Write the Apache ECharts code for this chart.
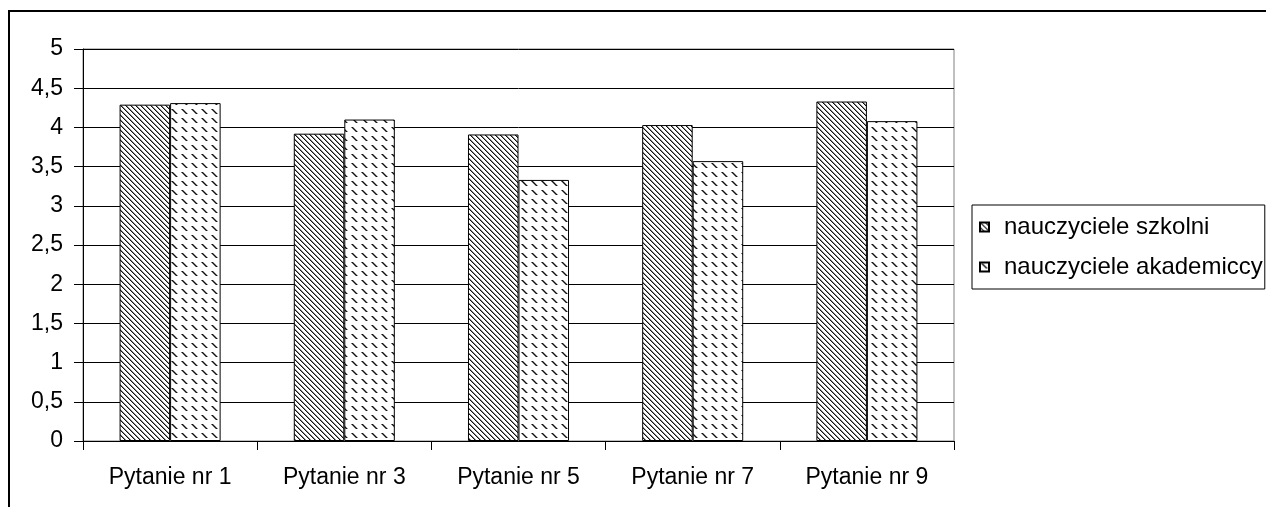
<!DOCTYPE html>
<html>
<head>
<meta charset="utf-8">
<title>Pytania</title>
<script src="https://cdn.jsdelivr.net/npm/echarts@6/dist/echarts.min.js"></script>
<style>
	html,body{margin:0;padding:0;background:#fff;}
	#wykres{width:1266px;height:507px;}
</style>
</head>
<body>
<div id="wykres"></div>
<script>
var pytania = ['Pytanie nr 1','Pytanie nr 3','Pytanie nr 5','Pytanie nr 7','Pytanie nr 9'];
var szkolni = [4.29, 3.92, 3.91, 4.03, 4.33];
var akademiccy = [4.31, 4.10, 3.33, 3.57, 4.08];
var nazwy = ['nauczyciele szkolni','nauczyciele akademiccy'];

var myChart;
var font = '"Liberation Sans", Arial, sans-serif';

//wzorek ukosne linie
function wzorSkosny(){
	var c = document.createElement('canvas');
	c.width = 5; c.height = 5;
	var ctx = c.getContext('2d');
	ctx.fillStyle = '#fff';
	ctx.fillRect(0,0,5,5);
	for(var i=0;i<5;i++){
		ctx.fillStyle = '#111';
		ctx.fillRect(i,i,1,1);
		ctx.fillStyle = '#8a8a8a';
		ctx.fillRect((i+1)%5,i,1,1);
	}
	return c;
}
//wzorek kreski
function wzorKreski(){
	var c = document.createElement('canvas');
	c.width = 10; c.height = 9;
	var ctx = c.getContext('2d');
	ctx.fillStyle = '#fff';
	ctx.fillRect(0,0,10,9);
	for(var j=0;j<5;j++){
		ctx.fillStyle = '#7a7a7a';
		ctx.fillRect(j+1,j+1,1,1);
		ctx.fillStyle = '#111';
		ctx.fillRect(j+2,j+1,1,1);
		ctx.fillStyle = '#9a9a9a';
		ctx.fillRect(j+3,j+1,1,1);
	}
	return c;
}

window.onresize=function () {
	if(myChart){
		myChart.resize();
	}
};

(function(){
	var option = {
		animation:false,
		backgroundColor:'#fff',
		textStyle:{fontFamily:font,color:'#000'},
		graphic:[{
			type:'rect',
			shape:{x:9,y:11,width:1300,height:600},
			style:{fill:'none',stroke:'#000',lineWidth:2},
			silent:true
		}],
		grid:{
			left:83, top:49, right:312, bottom:66,
			show:true, borderColor:'#808080', borderWidth:1
		},
		legend:{
			orient:'vertical',
			left:972, top:205,
			padding:[10,2,10,7],
			itemGap:16,
			itemWidth:9, itemHeight:9,
			icon:'rect',
			borderColor:'#000', borderWidth:1,
			textStyle:{fontSize:24,fontFamily:font,color:'#000',padding:[0,0,0,10]},
			data:nazwy
		},
		xAxis:{
			type:'category',
			data:pytania,
			axisLine:{lineStyle:{color:'#000',width:1}},
			axisTick:{show:true,length:9,lineStyle:{color:'#000'},alignWithLabel:false},
			axisLabel:{fontSize:23,fontFamily:font,color:'#000',margin:25}
		},
		yAxis:{
			type:'value',
			min:0, max:5, interval:0.5,
			axisLine:{show:true,lineStyle:{color:'#000',width:1}},
			axisTick:{show:true,length:9,lineStyle:{color:'#000'}},
			splitLine:{lineStyle:{color:'#000',width:1}},
			axisLabel:{
				fontSize:23,fontFamily:font,color:'#000',margin:20,
				formatter:function(v){return String(v).replace('.',',');}
			}
		},
		series:[{
			name:nazwy[0],
			type:'bar',
			data:szkolni,
			barGap:'0%',
			barCategoryGap:'42%',
			itemStyle:{color:{image:wzorSkosny(),repeat:'repeat'},borderColor:'#000',borderWidth:1}
		},{
			name:nazwy[1],
			type:'bar',
			data:akademiccy,
			barGap:'0%',
			barCategoryGap:'42%',
			itemStyle:{color:{image:wzorKreski(),repeat:'repeat'},borderColor:'#000',borderWidth:1}
		}]
	};
	myChart = echarts.init(document.getElementById('wykres'));
	myChart.setOption(option);
})();
</script>
</body>
</html>
